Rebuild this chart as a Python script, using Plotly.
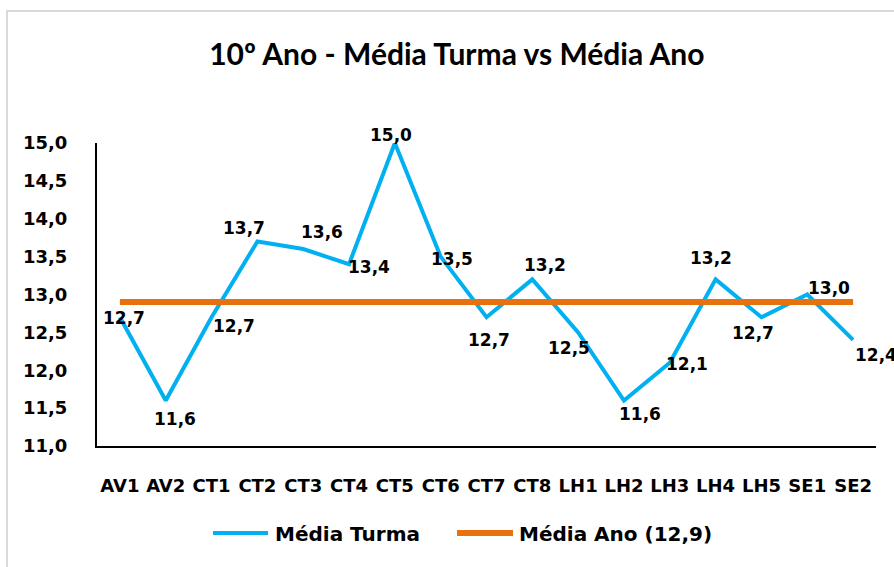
import plotly.graph_objects as go

categories = ["AV1", "AV2", "CT1", "CT2", "CT3", "CT4", "CT5", "CT6", "CT7", "CT8",
              "LH1", "LH2", "LH3", "LH4", "LH5", "SE1", "SE2"]
media_turma = [12.7, 11.6, 12.7, 13.7, 13.6, 13.4, 15.0, 13.5, 12.7, 13.2,
               12.5, 11.6, 12.1, 13.2, 12.7, 13.0, 12.4]
media_ano_value = 12.9
media_ano = [media_ano_value] * len(categories)
y_ticks = [11.0, 11.5, 12.0, 12.5, 13.0, 13.5, 14.0, 14.5, 15.0]
y_tick_text = ["11,0", "11,5", "12,0", "12,5", "13,0", "13,5", "14,0", "14,5", "15,0"]
series_names = ["Média Turma", "Média Ano (" + f"{media_ano_value:.1f}".replace(".", ",") + ")"]

# label offsets in pixels (dx, dy screen-down) for the data labels
label_offsets = [(4, 1), (9, 18), (22, 9), (-13, -13), (19, -17), (20, 3), (-4, -8),
                 (11, 2), (2, 23), (13, -14), (-9, 16), (16, 13), (17, 1), (-5, -21),
                 (-8, 16), (22, -7), (23, 15)]

TITLE_FONT = "Lato"
FONT = "DejaVu Sans"
BLUE = "#00B0F0"
ORANGE = "#E8710F"
COLORS = [BLUE, ORANGE]
WIDTHS = [4, 6]

# plot area geometry (pixels)
L, R, T, B = 97, 18, 143, 121
W, H = 894, 567
PW, PH = W - L - R, H - T - B


def px_x(px):
    return (px - L) / PW


def px_y(py):
    return (H - B - py) / PH


fig = go.Figure()
fig.add_trace(go.Scatter(x=categories, y=media_turma, mode="lines", name=series_names[0],
                         line=dict(color=BLUE, width=4), showlegend=False))
fig.add_trace(go.Scatter(x=categories, y=media_ano, mode="lines", name=series_names[1],
                         line=dict(color=ORANGE, width=6), showlegend=False))

for c, v, (dx, dy) in zip(categories, media_turma, label_offsets):
    fig.add_annotation(x=c, y=v, text=f"{v:.1f}".replace(".", ","), showarrow=False,
                       xshift=dx, yshift=-dy,
                       font=dict(family=FONT, size=17, color="#000000", weight="bold"))

# outer chart frame
fig.add_shape(type="rect", xref="paper", yref="paper", x0=px_x(7), x1=px_x(W + 20),
              y0=px_y(H + 20), y1=px_y(11),
              line=dict(color="#D9D9D9", width=2), layer="below")

# custom legend (line sample + label)
legend_items = [(213, 268, 273), (457, 513, 517)]
for name, color, lw, (lx0, lx1, tx) in zip(series_names, COLORS, WIDTHS, legend_items):
    fig.add_shape(type="line", xref="paper", yref="paper", x0=px_x(lx0), x1=px_x(lx1),
                  y0=px_y(533), y1=px_y(533), line=dict(color=color, width=lw))
    fig.add_annotation(xref="paper", yref="paper", x=px_x(tx), y=px_y(534), text=name,
                       showarrow=False, xanchor="left", yanchor="middle",
                       font=dict(family=FONT, size=20, color="#000000", weight="bold"))

fig.update_layout(
    width=W, height=H,
    margin=dict(l=L, r=R, t=T, b=B),
    paper_bgcolor="white", plot_bgcolor="white",
    title=dict(text="10º Ano - Média Turma vs Média Ano", x=0.511, xanchor="center",
               y=1 - 54 / H, yanchor="middle",
               font=dict(family=TITLE_FONT, size=30, color="#000000", weight="bold")),
    xaxis=dict(range=[-0.5, len(categories) - 0.5], showgrid=False, zeroline=False,
               showline=True, linecolor="#000000", linewidth=2, ticks="",
               ticklabelstandoff=22,
               tickfont=dict(family=FONT, size=18, color="#000000", weight="bold")),
    yaxis=dict(range=[11, 15], tickvals=y_ticks, ticktext=y_tick_text, showgrid=False,
               zeroline=False, showline=True, linecolor="#000000", linewidth=2, ticks="",
               ticklabelstandoff=24,
               tickfont=dict(family=FONT, size=18, color="#000000", weight="bold")),
    showlegend=False,
)

fig.write_html("out.html", config={"displayModeBar": False},
               post_script="document.body.style.margin='0';document.body.style.overflow='hidden';")
